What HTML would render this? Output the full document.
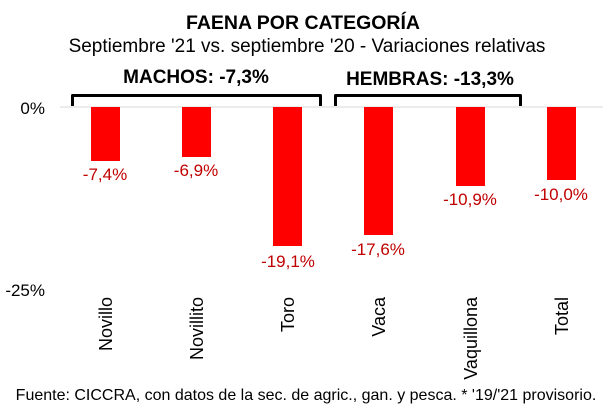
<!DOCTYPE html>
<html><head><meta charset="utf-8"><style>
body{margin:0;background:#fff;}
</style></head><body>
<svg width="603" height="414" xmlns="http://www.w3.org/2000/svg" font-family="Liberation Sans, Arial, sans-serif">
<rect width="603" height="414" fill="#fff"/>
<text x="303" y="29" text-anchor="middle" font-size="19.5" font-weight="bold">FAENA POR CATEGORÍA</text>
<text x="307" y="52" text-anchor="middle" font-size="19">Septiembre '21 vs. septiembre '20 - Variaciones relativas</text>
<text x="196" y="83" text-anchor="middle" font-size="19" font-weight="bold">MACHOS: -7,3%</text>
<text x="430" y="85" text-anchor="middle" font-size="19" font-weight="bold">HEMBRAS: -13,3%</text>
<path d="M72.5,106 V95.5 H320.5 V106" fill="none" stroke="#000" stroke-width="3" stroke-linejoin="round"/>
<path d="M335.5,106 V95.5 H520.5 V106" fill="none" stroke="#000" stroke-width="3" stroke-linejoin="round"/>
<line x1="60" y1="107" x2="603" y2="107" stroke="#d9d9d9" stroke-width="1"/>
<text x="45" y="114" text-anchor="end" font-size="17">0%</text>
<text x="45" y="296" text-anchor="end" font-size="17">-25%</text>
<g fill="#ff0000">
<rect x="91" y="107" width="29" height="54"/>
<rect x="182" y="107" width="29" height="50"/>
<rect x="273" y="107" width="29" height="139"/>
<rect x="364" y="107" width="29" height="128"/>
<rect x="456" y="107" width="29" height="79"/>
<rect x="547" y="107" width="29" height="73"/>
</g>
<g fill="#c00000" font-size="17" text-anchor="middle">
<text x="105" y="180">-7,4%</text>
<text x="196" y="176">-6,9%</text>
<text x="288" y="267">-19,1%</text>
<text x="378" y="255">-17,6%</text>
<text x="470" y="205">-10,9%</text>
<text x="561" y="200">-10,0%</text>
</g>
<g font-size="18" text-anchor="end">
<text transform="translate(112,297) rotate(-90)">Novillo</text>
<text transform="translate(203,297) rotate(-90)">Novillito</text>
<text transform="translate(294,297) rotate(-90)">Toro</text>
<text transform="translate(385,297) rotate(-90)">Vaca</text>
<text transform="translate(477,297) rotate(-90)">Vaquillona</text>
<text transform="translate(568,297) rotate(-90)">Total</text>
</g>
<text x="306" y="400" text-anchor="middle" font-size="16">Fuente: CICCRA, con datos de la sec. de agric., gan. y pesca. * '19/'21 provisorio.</text>
</svg>
</body></html>
